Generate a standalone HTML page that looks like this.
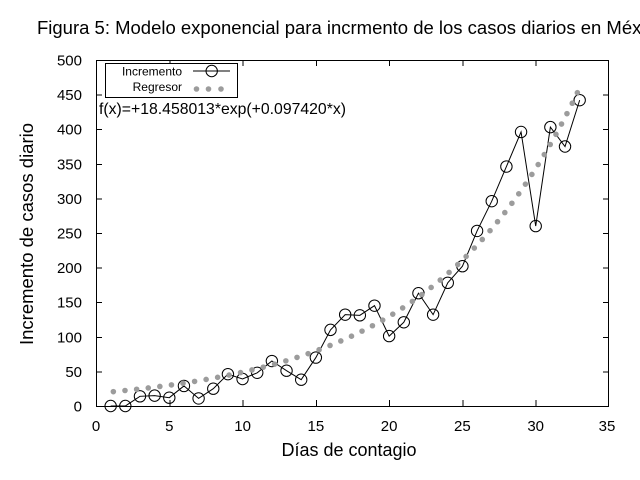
<!DOCTYPE html>
<html>
<head>
<meta charset="utf-8">
<style>
html,body{margin:0;padding:0;background:#fff;}
svg{display:block;}
text{font-family:"Liberation Sans",Arial,sans-serif;fill:#000;}
</style>
</head>
<body>
<svg width="640" height="480" viewBox="0 0 640 480" xmlns="http://www.w3.org/2000/svg">
<rect x="0" y="0" width="640" height="480" fill="#fff"/>

<!-- Title -->
<text x="37" y="34" font-size="18" textLength="628" lengthAdjust="spacingAndGlyphs">Figura 5: Modelo exponencial para incrmento de los casos diarios en México</text>

<!-- Ticks -->
<g stroke="#000" stroke-width="1" fill="none" shape-rendering="crispEdges">
  <path d="M96,406.5h6M96,371.9h6M96,337.3h6M96,302.7h6M96,268.1h6M96,233.5h6M96,198.9h6M96,164.3h6M96,129.7h6M96,95.1h6M96,60.5h6"/>
  <path d="M609,406.5h-6M609,371.9h-6M609,337.3h-6M609,302.7h-6M609,268.1h-6M609,233.5h-6M609,198.9h-6M609,164.3h-6M609,129.7h-6M609,95.1h-6M609,60.5h-6"/>
  <path d="M96.5,406v-6M169.8,406v-6M243.1,406v-6M316.4,406v-6M389.6,406v-6M462.9,406v-6M536.2,406v-6M608.5,406v-6"/>
  <path d="M96.5,60v6M169.8,60v6M243.1,60v6M316.4,60v6M389.6,60v6M462.9,60v6M536.2,60v6M608.5,60v6"/>
  <rect x="96.5" y="60.5" width="512" height="346"/>
</g>

<!-- Y tick labels -->
<g font-size="15" text-anchor="end">
  <text x="82" y="411.5">0</text>
  <text x="82" y="376.9">50</text>
  <text x="82" y="342.3">100</text>
  <text x="82" y="307.7">150</text>
  <text x="82" y="273.1">200</text>
  <text x="82" y="238.5">250</text>
  <text x="82" y="203.9">300</text>
  <text x="82" y="169.3">350</text>
  <text x="82" y="134.7">400</text>
  <text x="82" y="100.1">450</text>
  <text x="82" y="65.5">500</text>
</g>

<!-- X tick labels -->
<g font-size="15" text-anchor="middle">
  <text x="96" y="431">0</text>
  <text x="169.3" y="431">5</text>
  <text x="242.6" y="431">10</text>
  <text x="315.9" y="431">15</text>
  <text x="389.1" y="431">20</text>
  <text x="462.4" y="431">25</text>
  <text x="535.7" y="431">30</text>
  <text x="607" y="431">35</text>
</g>

<!-- Axis labels -->
<text x="349" y="456" font-size="18" text-anchor="middle" textLength="135" lengthAdjust="spacingAndGlyphs">Días de contagio</text>
<text transform="translate(33,234) rotate(-90)" x="0" y="0" font-size="18" text-anchor="middle" textLength="222" lengthAdjust="spacingAndGlyphs">Incremento de casos diario</text>

<!-- f(x) label -->
<text x="99" y="114" font-size="16" textLength="247" lengthAdjust="spacingAndGlyphs">f(x)=+18.458013*exp(+0.097420*x)</text>

<!-- Incremento series -->
<polyline fill="none" stroke="#000" stroke-width="1" points="110.66,406 125.31,406 139.97,396.31 154.63,395.62 169.29,397.7 183.94,385.93 198.6,398.39 213.26,388.7 227.91,374.17 242.57,379.01 257.23,372.78 271.88,361.02 286.54,370.71 301.2,379.7 315.86,357.56 330.51,329.88 345.17,314.66 359.83,315.35 374.48,305.66 389.14,336.11 403.8,322.27 418.45,293.2 433.11,314.66 447.77,282.82 462.43,266.22 477.08,230.92 491.74,201.17 506.4,166.57 521.05,131.97 535.71,226.08 550.37,127.12 565.02,146.5 579.68,100.14"/>
<g fill="none" stroke="#000" stroke-width="1">
  <circle cx="110.66" cy="406" r="5.7"/>
  <circle cx="125.31" cy="406" r="5.7"/>
  <circle cx="139.97" cy="396.31" r="5.7"/>
  <circle cx="154.63" cy="395.62" r="5.7"/>
  <circle cx="169.29" cy="397.7" r="5.7"/>
  <circle cx="183.94" cy="385.93" r="5.7"/>
  <circle cx="198.6" cy="398.39" r="5.7"/>
  <circle cx="213.26" cy="388.7" r="5.7"/>
  <circle cx="227.91" cy="374.17" r="5.7"/>
  <circle cx="242.57" cy="379.01" r="5.7"/>
  <circle cx="257.23" cy="372.78" r="5.7"/>
  <circle cx="271.88" cy="361.02" r="5.7"/>
  <circle cx="286.54" cy="370.71" r="5.7"/>
  <circle cx="301.2" cy="379.7" r="5.7"/>
  <circle cx="315.86" cy="357.56" r="5.7"/>
  <circle cx="330.51" cy="329.88" r="5.7"/>
  <circle cx="345.17" cy="314.66" r="5.7"/>
  <circle cx="359.83" cy="315.35" r="5.7"/>
  <circle cx="374.48" cy="305.66" r="5.7"/>
  <circle cx="389.14" cy="336.11" r="5.7"/>
  <circle cx="403.8" cy="322.27" r="5.7"/>
  <circle cx="418.45" cy="293.2" r="5.7"/>
  <circle cx="433.11" cy="314.66" r="5.7"/>
  <circle cx="447.77" cy="282.82" r="5.7"/>
  <circle cx="462.43" cy="266.22" r="5.7"/>
  <circle cx="477.08" cy="230.92" r="5.7"/>
  <circle cx="491.74" cy="201.17" r="5.7"/>
  <circle cx="506.4" cy="166.57" r="5.7"/>
  <circle cx="521.05" cy="131.97" r="5.7"/>
  <circle cx="535.71" cy="226.08" r="5.7"/>
  <circle cx="550.37" cy="127.12" r="5.7"/>
  <circle cx="565.02" cy="146.5" r="5.7"/>
  <circle cx="579.68" cy="100.14" r="5.7"/>
</g>

<!-- Regresor series (dotted) -->
<polyline fill="none" stroke="#9c9c9c" stroke-width="5.6" stroke-linecap="round" stroke-dasharray="0 11.7" stroke-dashoffset="9"
points="110.66,391.92 117.99,391.22 125.31,390.48 132.64,389.7 139.97,388.89 147.3,388.04 154.63,387.14 161.96,386.2 169.29,385.21 176.61,384.17 183.94,383.08 191.27,381.94 198.6,380.74 205.93,379.48 213.26,378.15 220.58,376.76 227.91,375.3 235.24,373.77 242.57,372.16 249.9,370.47 257.23,368.7 264.56,366.84 271.88,364.88 279.21,362.83 286.54,360.68 293.87,358.41 301.2,356.04 308.53,353.54 315.86,350.93 323.18,348.18 330.51,345.29 337.84,342.26 345.17,339.08 352.5,335.74 359.83,332.23 367.15,328.55 374.48,324.68 381.81,320.62 389.14,316.36 396.47,311.96 403.8,307.19 411.13,302.26 418.45,297.08 425.78,291.64 433.11,285.93 440.44,279.94 447.77,273.65 455.1,267.04 462.43,260.11 469.75,252.82 477.08,245.18 484.41,237.15 491.74,228.72 499.07,219.87 506.4,210.58 513.72,200.83 521.05,190.59 528.38,179.83 535.71,168.54 543.04,156.69 550.37,144.25 557.7,131.18 565.02,117.46 572.35,103.06 579.68,87.94"/>

<!-- Legend -->
<rect x="105.5" y="63.5" width="132" height="34" fill="#fff" stroke="#000" stroke-width="1" shape-rendering="crispEdges"/>
<g font-size="12" text-anchor="end">
  <text x="182" y="75.5">Incremento</text>
  <text x="182" y="91">Regresor</text>
</g>
<line x1="193" y1="71" x2="230" y2="71" stroke="#000" stroke-width="1"/>
<circle cx="211.7" cy="71" r="5.7" fill="none" stroke="#000" stroke-width="1"/>
<g fill="#9c9c9c">
  <circle cx="196.5" cy="89" r="2.8"/>
  <circle cx="208.5" cy="89" r="2.8"/>
  <circle cx="221" cy="89" r="2.8"/>
</g>
</svg>
</body>
</html>
